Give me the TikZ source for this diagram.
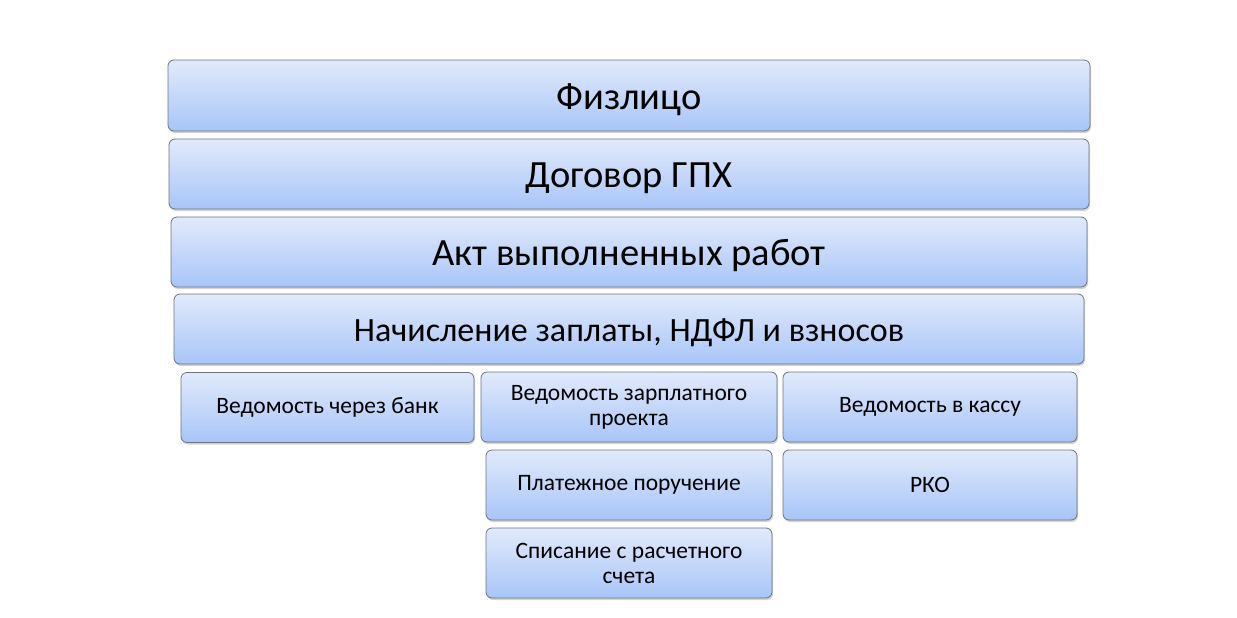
\documentclass[tikz,border=0pt]{standalone}
\usepackage{fontspec}
\setmainfont{Carlito}
\usetikzlibrary{positioning, shadows}
\definecolor{boxtop}{HTML}{E1EAFB}
\definecolor{boxbot}{HTML}{A8C5F8}
\definecolor{boxline}{HTML}{6E737C}

\begin{document}
\begin{tikzpicture}[x=1pt, y=-1pt, line width=0.8pt,
    box/.style = {draw=boxline, rounded corners=6pt, top color=boxtop, bottom color=boxbot,
        drop shadow={shadow xshift=1pt, shadow yshift=-2pt, opacity=0.35}, align=center, inner sep=2pt},
    big/.style = {box, minimum height=70pt, text height=27pt, text depth=0pt, font=\fontsize{38.5}{42}\selectfont},
    small/.style = {box, minimum width=292pt, minimum height=70pt, font=\fontsize{23.5}{25}\selectfont}]
            \useasboundingbox (0,0) rectangle (1237,618);
            \node[big, minimum width=922pt, minimum height=71pt] (fiz) at (629,95.5) {Физлицо};
            \node[big, minimum width=920pt] (dog) at (629,174) {Договор ГПХ};
            \node[big, minimum width=916pt] (akt) at (629,252) {Акт выполненных работ};
            \node[big, minimum width=910pt, text height=24pt, font=\fontsize{34}{38}\selectfont] (nach) at (629,329) {Начисление заплаты, НДФЛ и взносов};
            \node[small, minimum width=293pt] (bank) at (327.5,407.5) {Ведомость через банк};
            \node[small, minimum width=296pt] (zp) at (629,407) {Ведомость зарплатного\\проекта};
            \node[small, minimum width=294pt] (kassa) at (930,407) {Ведомость в кассу};
            \node[small, minimum width=286pt] (pp) at (629,485) {Платежное поручение};
            \node[small, minimum width=294pt] (rko) at (930,485) {РКО};
            \node[small, minimum width=286pt] (spis) at (629,563) {Списание с расчетного\\счета};
        \end{tikzpicture}
\end{document}
